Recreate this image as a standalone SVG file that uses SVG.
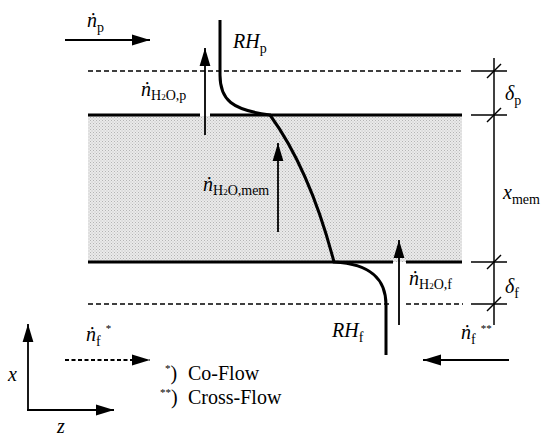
<svg xmlns="http://www.w3.org/2000/svg" width="550" height="439" viewBox="0 0 550 439">
<defs>
<pattern id="stip" width="3" height="3" patternUnits="userSpaceOnUse">
<rect width="3" height="3" fill="#eaeaea"/>
<rect x="0" y="0" width="1" height="1" fill="#b4b4b4"/>
<rect x="1.5" y="1.5" width="1" height="1" fill="#c0c0c0"/>
</pattern>
<marker id="ahL" viewBox="0 0 10 10" refX="10" refY="5" markerWidth="18" markerHeight="18" markerUnits="userSpaceOnUse" orient="auto">
<path d="M0,2 L10,5 L0,8 Z" fill="#000"/>
</marker>
</defs>
<style>
text{font-family:'Liberation Serif','Times New Roman','DejaVu Serif',serif;fill:#000;font-size:20px}
.it{font-style:italic}
.sub{font-size:14px;font-style:normal}
.two{font-size:9px;font-style:normal}
.sup{font-size:11px;font-style:normal}
.thick{stroke:#000;stroke-width:3;fill:none}
.thin{stroke:#000;stroke-width:1.5;fill:none}
.dash{stroke:#000;stroke-width:1.5;fill:none;stroke-dasharray:5,3}
.arr{stroke:#000;stroke-width:1.8;fill:none;marker-end:url(#ahL)}
</style>

<g id="membrane">
<rect x="88" y="116" width="374" height="146" fill="url(#stip)"/>
</g>

<g id="connectors">
<line class="dash" x1="88" y1="71" x2="463" y2="71"/>
<line class="dash" x1="88" y1="304" x2="392" y2="304"/>
<line class="dash" x1="406" y1="304" x2="463" y2="304"/>
<line class="thick" x1="88" y1="115" x2="200" y2="115"/>
<line class="thick" x1="210" y1="115" x2="462" y2="115"/>
<line class="thick" x1="88" y1="262" x2="393" y2="262"/>
<line class="thick" x1="406" y1="262" x2="462" y2="262"/>
<path class="thick" d="M220,20 L220,75 C220,100 232,110 270,115 Q310,170 334,262 C372,264 386,280 386,305 L386,355"/>
<line class="thin" x1="494" y1="58" x2="494" y2="325"/>
<line class="thin" x1="471" y1="71" x2="507" y2="71"/>
<line class="thin" x1="471" y1="115" x2="507" y2="115"/>
<line class="thin" x1="471" y1="262" x2="507" y2="262"/>
<line class="thin" x1="471" y1="304" x2="507" y2="304"/>
<line class="thin" x1="487" y1="78" x2="501" y2="64"/>
<line class="thin" x1="487" y1="122" x2="501" y2="108"/>
<line class="thin" x1="487" y1="269" x2="501" y2="255"/>
<line class="thin" x1="487" y1="311" x2="501" y2="297"/>
<line class="arr" x1="205" y1="135" x2="205" y2="48"/>
<line class="arr" x1="278" y1="232" x2="278" y2="143"/>
<line class="arr" x1="399" y1="325" x2="399" y2="240"/>
<line class="arr" x1="65" y1="40" x2="150" y2="40"/>
<line class="arr" x1="65" y1="360" x2="150" y2="360" stroke-dasharray="4,2.5"/>
<line class="arr" x1="509" y1="360" x2="423" y2="360"/>
<line class="arr" x1="28" y1="410" x2="28" y2="324"/>
<line class="arr" x1="27" y1="410" x2="114" y2="410"/>
</g>

<g id="labels">
<text x="87" y="27" class="it">ṅ<tspan class="sub" dy="5">p</tspan></text>
<text x="233" y="48" class="it">RH<tspan class="sub" dy="5">p</tspan></text>
<text x="141" y="96" class="it">ṅ<tspan class="sub" dy="4">H</tspan><tspan class="two">2</tspan><tspan class="sub">O,p</tspan></text>
<text x="203" y="191" class="it">ṅ<tspan class="sub" dy="4">H</tspan><tspan class="two">2</tspan><tspan class="sub">O,mem</tspan></text>
<text x="409" y="285" class="it">ṅ<tspan class="sub" dy="4">H</tspan><tspan class="two">2</tspan><tspan class="sub">O,f</tspan></text>
<text x="505" y="100" class="it">δ<tspan class="sub" dy="5">p</tspan></text>
<text x="503" y="199" class="it">x<tspan class="sub" dy="5">mem</tspan></text>
<text x="505" y="293" class="it">δ<tspan class="sub" dy="5">f</tspan></text>
<text x="332" y="337" class="it">RH<tspan class="sub" dy="5">f</tspan></text>
<text x="461" y="339" class="it">ṅ<tspan class="sub" dy="5">f</tspan><tspan class="sup" dx="5" dy="-12">**</tspan></text>
<text x="86" y="341" class="it">ṅ<tspan class="sub" dy="5">f</tspan><tspan class="sup" dx="5" dy="-14">*</tspan></text>
<text x="8" y="381" class="it">x</text>
<text x="57" y="433" class="it">z</text>
<text x="165" y="380"><tspan class="sup" dy="-8">*</tspan><tspan dy="8">)</tspan></text>
<text x="188" y="380">Co-Flow</text>
<text x="160" y="404"><tspan class="sup" dy="-8">**</tspan><tspan dy="8">)</tspan></text>
<text x="188" y="404">Cross-Flow</text>
</g>
</svg>
